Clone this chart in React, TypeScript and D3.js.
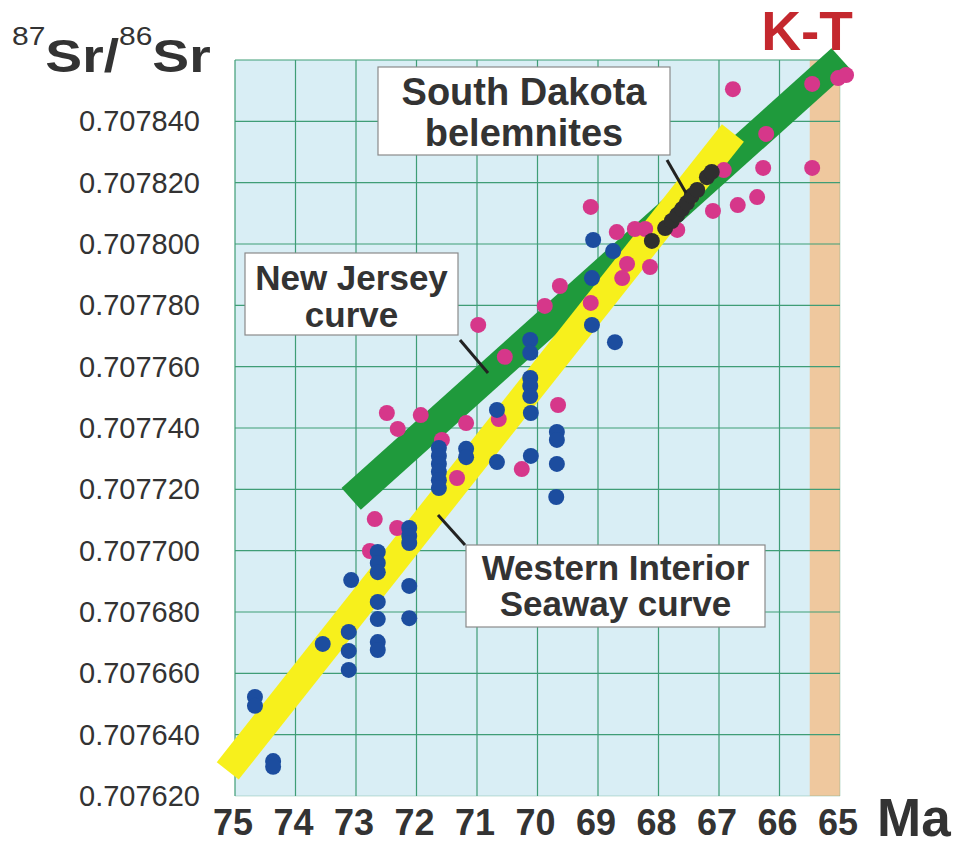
import * as d3 from 'd3';

// age axis (Ma) and ratio axis ticks
const ageTicks = [75, 74, 73, 72, 71, 70, 69, 68, 67, 66, 65];
const ratioTicks = [0.70762, 0.70764, 0.70766, 0.70768, 0.7077, 0.70772, 0.70774, 0.70776, 0.70778, 0.7078, 0.70782, 0.70784];
const ratioTop = 0.70786;

// K-T boundary interval (Ma)
const ktInterval = [65.5, 65.0];

// reference curves, drawn as broad bands: [Ma, ratio]
const westernInteriorCurve: [number, number][] = [[75.12, 0.7076282], [66.77, 0.7078362]];
const newJerseyCurve: [number, number][] = [[73.08, 0.7077169], [64.98, 0.7078603]];

// magenta samples
const pinkSamples: [number, number][] = [
  [66.77, 0.7078505], [65.46, 0.7078522], [65.03, 0.7078541], [64.9, 0.7078551],
  [66.22, 0.7078359], [66.92, 0.7078241], [66.27, 0.7078248], [65.46, 0.7078248],
  [66.37, 0.7078153], [66.69, 0.7078127], [67.1, 0.7078108], [67.69, 0.7078046],
  [68.22, 0.7078049], [68.39, 0.7078049], [68.69, 0.7078039], [69.12, 0.7078121],
  [68.52, 0.7077935], [68.14, 0.7077925], [68.6, 0.7077889], [69.63, 0.7077863],
  [69.12, 0.7077808], [69.88, 0.7077798], [70.98, 0.7077736], [70.54, 0.7077632],
  [69.66, 0.7077475], [70.64, 0.7077429], [71.18, 0.7077416], [71.58, 0.7077361],
  [70.26, 0.7077266], [71.33, 0.7077237], [72.49, 0.7077449], [71.93, 0.7077442],
  [72.31, 0.7077397], [72.69, 0.7077103], [72.32, 0.7077074], [72.77, 0.7076999],
];

// blue samples
const blueSamples: [number, number][] = [
  [74.67, 0.7076523], [74.67, 0.7076494], [74.37, 0.7076314], [74.37, 0.7076295],
  [73.55, 0.7076696], [73.12, 0.7076735], [73.12, 0.7076673], [73.12, 0.7076611],
  [73.08, 0.7076904], [72.64, 0.7076996], [72.64, 0.707696], [72.64, 0.707693],
  [72.64, 0.7076833], [72.64, 0.7076777], [72.64, 0.7076702], [72.64, 0.7076676],
  [72.12, 0.7077074], [72.12, 0.7077048], [72.12, 0.7077025], [72.12, 0.7076885],
  [72.12, 0.707678], [71.63, 0.7077335], [71.63, 0.7077309], [71.63, 0.7077283],
  [71.63, 0.7077257], [71.63, 0.707723], [71.63, 0.7077204], [71.18, 0.7077332],
  [71.18, 0.7077305], [70.67, 0.7077459], [70.67, 0.7077289], [70.12, 0.7077687],
  [70.12, 0.7077645], [70.12, 0.7077563], [70.12, 0.7077537], [70.12, 0.7077504],
  [70.11, 0.7077449], [70.11, 0.7077309], [69.68, 0.7077387], [69.68, 0.7077361],
  [69.68, 0.7077283], [69.69, 0.7077175], [69.08, 0.7078013], [68.75, 0.7077977],
  [69.1, 0.7077889], [69.1, 0.7077736], [68.72, 0.707768],
];

// South Dakota belemnites
const belemniteSamples: [number, number][] = [
  [68.11, 0.707801], [67.89, 0.7078052], [67.78, 0.7078075], [67.69, 0.7078095],
  [67.61, 0.7078114], [67.53, 0.7078134], [67.45, 0.7078157], [67.36, 0.7078176],
  [67.2, 0.7078218], [67.12, 0.7078235],
];

const W = 958;
const H = 846;
const FONT = "'Liberation Sans', Arial, Helvetica, sans-serif";
const INK = '#333333';

const x = d3.scaleLinear().domain([75, 65]).range([235, 840]);
const y = d3.scaleLinear().domain([0.70762, ratioTop]).range([796, 60]);

function Band({ pts, color, width }: { pts: [number, number][]; color: string; width: number }) {
  const line = d3.line<[number, number]>().x(d => x(d[0])).y(d => y(d[1]));
  return <path d={line(pts) || ''} stroke={color} strokeWidth={width} fill="none" strokeLinecap="butt" />;
}

function Dots({ pts, color }: { pts: [number, number][]; color: string }) {
  return (
    <g fill={color}>
      {pts.map((d, i) => <circle key={i} cx={x(d[0])} cy={y(d[1])} r={8} />)}
    </g>
  );
}

function Callout({ box, lines, size, leader }: {
  box: [number, number, number, number];
  lines: { text: string; y: number }[];
  size: number;
  leader: [number, number, number, number];
}) {
  const [bx, by, bw, bh] = box;
  return (
    <g>
      <rect x={bx} y={by} width={bw} height={bh} fill="#fff" stroke="#8a8a8a" strokeWidth={1.2} />
      {lines.map((l, i) => (
        <text key={i} x={bx + bw / 2} y={l.y} textAnchor="middle" fontSize={size} fontWeight="bold" fill={INK}>
          {l.text}
        </text>
      ))}
      <line x1={leader[0]} y1={leader[1]} x2={leader[2]} y2={leader[3]} stroke="#222" strokeWidth={3} />
    </g>
  );
}

export default function App() {
  const [x0, x1] = x.range();
  const yTop = y(ratioTop);
  const yBot = y(ratioTicks[0]);
  return (
    <svg width={W} height={H} style={{ position: 'absolute', left: 0, top: 0, background: '#fff' }} fontFamily={FONT}>
      {/* plot background */}
      <rect x={x0} y={yTop} width={x1 - x0} height={yBot - yTop} fill="#d9eef5" />
      {/* K-T interval */}
      <rect x={x(ktInterval[0])} y={yTop} width={x(ktInterval[1]) - x(ktInterval[0])} height={yBot - yTop} fill="#efc89e" />

      {/* grid */}
      <g stroke="#3f9d76" strokeWidth={1.2}>
        {ageTicks.map(t => <line key={'v' + t} x1={x(t)} x2={x(t)} y1={yTop} y2={yBot} strokeOpacity={t === 65 ? 0.25 : 1} />)}
        {[...ratioTicks, ratioTop].map(t => <line key={'h' + t} x1={x0} x2={x1} y1={y(t)} y2={y(t)} strokeOpacity={t === ratioTicks[0] ? 0.3 : 1} />)}
      </g>

      {/* curves */}
      <Band pts={newJerseyCurve} color="#1f9a3c" width={29} />
      <Band pts={westernInteriorCurve} color="#f7f01c" width={28} />

      {/* samples */}
      <Dots pts={pinkSamples} color="#d6378a" />
      <Dots pts={blueSamples} color="#1c4d9f" />
      <Dots pts={belemniteSamples} color="#2f2f2f" />

      {/* callouts */}
      <Callout box={[378, 67, 292, 88]} size={38}
        lines={[{ text: 'South Dakota', y: 105 }, { text: 'belemnites', y: 146 }]}
        leader={[667, 160, 686, 193]} />
      <Callout box={[245, 253, 213, 82]} size={35}
        lines={[{ text: 'New Jersey', y: 290 }, { text: 'curve', y: 327 }]}
        leader={[460, 340, 488, 373]} />
      <Callout box={[466, 545, 299, 82]} size={35}
        lines={[{ text: 'Western Interior', y: 580 }, { text: 'Seaway curve', y: 616 }]}
        leader={[438, 515, 465, 545]} />

      {/* y tick labels */}
      <g fontSize={29} fill={INK} textAnchor="end">
        {ratioTicks.map(t => (
          <text key={t} x={200} y={y(t) + 10}>{t.toFixed(6)}</text>
        ))}
      </g>

      {/* x tick labels */}
      <g fontSize={36} fontWeight="bold" fill={INK} textAnchor="middle">
        {ageTicks.map(t => (
          <text key={t} x={x(t) - 2} y={835}>{t}</text>
        ))}
      </g>

      {/* axis titles */}
      <text transform="translate(12,72) scale(1.2,1)" fill={INK} fontWeight="bold" fontSize={46}>
        <tspan fontSize={25} fontWeight="normal" dy={-27}>87</tspan>
        <tspan dy={27}>Sr/</tspan>
        <tspan fontSize={25} fontWeight="normal" dy={-27}>86</tspan>
        <tspan dy={27}>Sr</tspan>
      </text>
      <text x={877} y={836} fontSize={53} fontWeight="bold" fill={INK}>Ma</text>
      <text x={807} y={50} fontSize={55} fontWeight="bold" fill="#c4282e" textAnchor="middle">K-T</text>
    </svg>
  );
}
